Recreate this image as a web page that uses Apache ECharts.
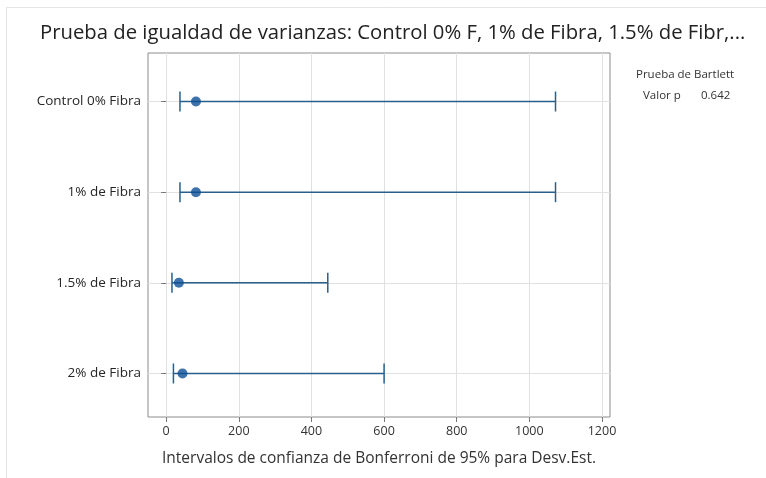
<!DOCTYPE html>
<html><head><meta charset="utf-8">
<script src="https://cdn.jsdelivr.net/npm/echarts@6/dist/echarts.min.js"></script>
<style>html,body{margin:0;padding:0;background:#fff}#c{width:766px;height:478px}</style>
</head><body><div id="c"></div>
<script>
const categories = ['Control 0% Fibra', '1% de Fibra', '1.5% de Fibra', '2% de Fibra'];
const lowerCI = [38, 38, 16, 20];
const stdDev = [82, 82, 35, 45];
const upperCI = [1072, 1072, 445, 600];
const xTicks = [0, 200, 400, 600, 800, 1000, 1200];
const pValue = '0.642';

const positions = categories.map((c, i) => i + 1);
const font = '"Open Sans", "Noto Sans", sans-serif';
const lineColor = '#27608c';
const dotColor = '#0c4f95';

const chart = echarts.init(document.getElementById('c'), null, {renderer: 'canvas'});
chart.setOption({
  animation: false,
  backgroundColor: '#fff',
  title: {
    text: 'Prueba de igualdad de varianzas: Control 0% F, 1% de Fibra, 1.5% de Fibr,...',
    left: 35, top: 18,
    textStyle: {fontFamily: font, fontSize: 20.3, fontWeight: 'normal', color: '#222'}
  },
  grid: {left: 148, right: 156, top: 53, bottom: 61, show: true, borderColor: '#8c8c8c', borderWidth: 1},
  xAxis: {
    type: 'value', min: -50, max: 1222,
    name: 'Intervalos de confianza de Bonferroni de 95% para Desv.Est.',
    nameLocation: 'middle', nameGap: 34,
    nameTextStyle: {fontFamily: font, fontSize: 15.5, color: '#333'},
    axisLine: {show: false},
    axisTick: {show: true, length: 5, lineStyle: {color: '#777'}, customValues: xTicks},
    axisLabel: {fontFamily: font, fontSize: 12.5, color: '#333', margin: 8, customValues: xTicks,
      formatter: v => String(v)},
    splitLine: {show: true, lineStyle: {color: '#e1e1e1'}}
  },
  yAxis: {
    type: 'value', inverse: true, min: 0.465, max: 4.48,
    axisLine: {show: false},
    axisTick: {show: true, length: 5, lineStyle: {color: '#777'}, customValues: positions},
    axisLabel: {fontFamily: font, fontSize: 13.5, color: '#262626', margin: 7, customValues: positions,
      formatter: v => categories[Math.round(v) - 1] || ''},
    splitLine: {show: true, lineStyle: {color: '#e1e1e1'}}
  },
  graphic: [
    {type: 'rect', shape: {x: 6.5, y: 7.5, width: 800, height: 500}, style: {fill: 'none', stroke: '#e4e4e4', lineWidth: 1}, silent: true},
    {type: 'text', left: 636, top: 69, style: {text: 'Prueba de Bartlett', font: '11.5px ' + font, fill: '#333'}},
    {type: 'text', left: 643, top: 90, style: {text: 'Valor p', font: '11.5px ' + font, fill: '#333'}},
    {type: 'text', left: 701, top: 90, style: {text: pValue, font: '11.5px ' + font, fill: '#333'}}
  ],
  series: [
    {
      type: 'custom',
      encode: {x: [1, 2], y: 0},
      data: positions.map((p, i) => [p, lowerCI[i], upperCI[i]]),
      renderItem: function (params, api) {
        const y = api.value(0);
        const a = api.coord([api.value(1), y]);
        const b = api.coord([api.value(2), y]);
        const h = 10;
        const st = {stroke: lineColor, lineWidth: 1.5};
        return {type: 'group', children: [
          {type: 'line', shape: {x1: a[0], y1: a[1], x2: b[0], y2: b[1]}, style: st},
          {type: 'line', shape: {x1: a[0], y1: a[1] - h, x2: a[0], y2: a[1] + h}, style: st},
          {type: 'line', shape: {x1: b[0], y1: b[1] - h, x2: b[0], y2: b[1] + h}, style: st}
        ]};
      },
      z: 2
    },
    {
      type: 'scatter',
      symbol: 'circle', symbolSize: 10,
      itemStyle: {color: dotColor},
      data: positions.map((p, i) => [stdDev[i], p]),
      z: 3
    }
  ]
});
</script></body></html>
